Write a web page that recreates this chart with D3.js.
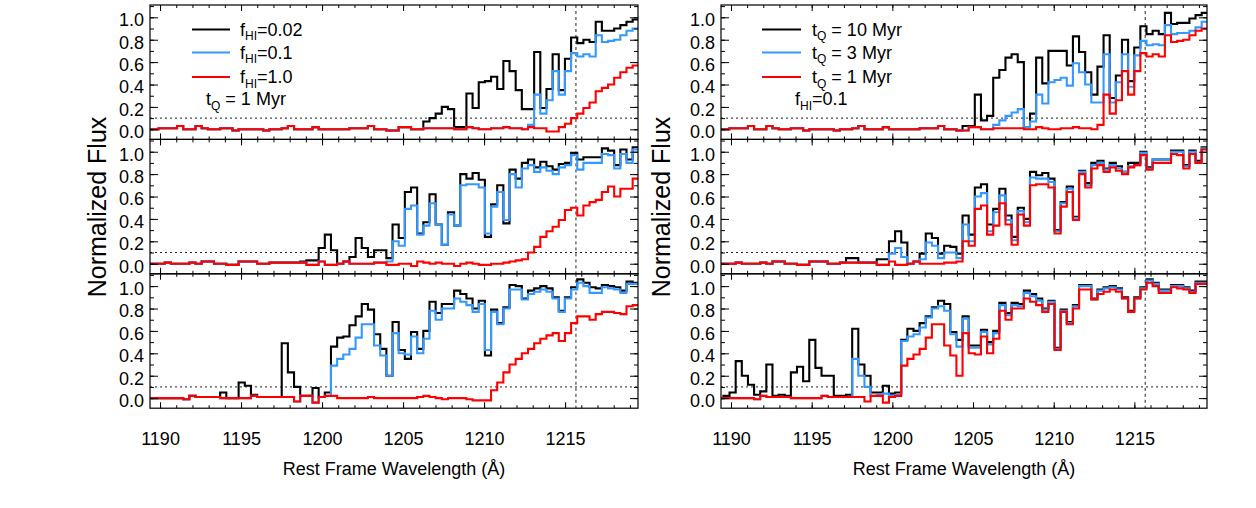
<!DOCTYPE html>
<html><head><meta charset="utf-8">
<script src="https://cdn.jsdelivr.net/npm/d3@7"></script>
<style>body{margin:0;background:#fff;} svg text{font-family:"Liberation Sans",Arial,Helvetica,sans-serif;}</style>
</head><body><svg id="c" width="1256" height="508"></svg>
<script>
// wavelength grid (rest frame, Angstrom): uniform pixels
const binStart = 1189.15, binWidth = 0.38, nBins = 80;
const wavelengths = d3.range(nBins).map(i => binStart + i * binWidth);
const lyaLine = 1215.67;
const fluxLevel = 0.1;
const xTicks = [1190, 1195, 1200, 1205, 1210, 1215];
const xMinorTicks = d3.range(1190, 1220, 1);
const yTicks = [0.0, 0.2, 0.4, 0.6, 0.8, 1.0];
const yMinorTicks = [0.0,0.1,0.2,0.3,0.4,0.5,0.6,0.7,0.8,0.9,1.0,1.1];

// ---- left column: t_Q = 1 Myr, f_HI = 0.02 / 0.1 / 1.0
const lTopBlack = [
0.00,0.00,0.01,0.01,0.01,0.03,0.00,0.00,0.03,0.01,
0.00,0.00,0.01,0.01,-0.01,0.00,0.00,0.00,0.00,-0.01,
0.00,0.00,0.01,0.03,0.00,0.00,0.00,0.02,0.00,0.00,
0.00,0.00,0.00,0.01,0.01,0.01,0.03,0.00,0.00,-0.01,
-0.01,0.02,0.02,0.00,0.00,0.07,0.10,0.14,0.20,0.18,
0.02,0.02,0.32,0.19,0.42,0.43,0.47,0.36,0.61,0.52,
0.35,0.18,0.18,0.69,0.19,0.36,0.67,0.35,0.63,0.82,
0.77,0.80,0.78,0.96,0.88,0.88,0.90,0.93,0.96,0.98];
const lTopBlue = [
0.00,0.00,0.01,0.01,0.01,0.03,0.00,0.00,0.03,0.01,
0.00,0.00,0.01,0.01,-0.01,0.00,0.00,0.00,0.00,-0.01,
0.00,0.00,0.01,0.03,0.00,0.00,0.00,0.02,0.00,0.00,
0.00,0.00,0.00,0.01,0.01,0.01,0.03,0.00,0.00,-0.01,
-0.01,0.02,0.02,0.00,0.00,0.01,0.01,0.01,0.01,0.01,
0.00,0.00,0.02,0.01,0.00,0.00,0.01,0.01,0.02,0.01,
0.01,0.00,0.04,0.31,0.14,0.26,0.52,0.31,0.52,0.68,
0.65,0.67,0.65,0.84,0.78,0.79,0.80,0.84,0.88,0.90];
const lTopRed = [
0.00,0.00,0.01,0.01,0.01,0.03,0.00,0.00,0.03,0.01,
0.00,0.00,0.01,0.01,-0.01,0.00,0.00,0.00,0.00,-0.01,
0.00,0.00,0.01,0.03,0.00,0.00,0.00,0.02,0.00,0.00,
0.00,0.00,0.00,0.01,0.01,0.01,0.03,0.00,0.00,-0.01,
-0.01,0.02,0.02,0.00,0.00,0.01,0.01,0.01,0.01,0.01,
0.00,0.00,0.02,0.01,0.00,0.00,0.01,0.01,0.02,0.01,
0.01,0.00,0.02,0.01,0.01,-0.02,-0.02,0.02,0.05,0.10,
0.14,0.19,0.24,0.34,0.37,0.40,0.46,0.51,0.55,0.57];

const lMidBlack = [
0.00,0.00,0.00,0.01,0.00,0.00,0.00,0.01,0.00,0.02,
0.02,0.00,0.00,-0.01,-0.01,0.02,0.02,0.02,0.00,0.00,
0.01,0.01,0.01,0.01,0.01,0.02,0.03,0.03,0.14,0.26,
0.12,0.00,0.02,0.06,0.23,0.14,0.06,0.12,0.12,0.05,
0.35,0.23,0.64,0.68,0.27,0.37,0.62,0.35,0.17,0.46,
0.34,0.80,0.76,0.81,0.75,0.24,0.53,0.70,0.36,0.84,
0.76,0.90,0.93,0.86,0.91,0.87,0.84,0.89,0.90,0.99,
0.93,0.95,0.95,0.95,1.03,1.01,0.88,1.02,0.93,1.04];
const lMidBlue = [
0.00,0.00,0.00,0.01,0.00,0.00,0.00,0.01,0.00,0.02,
0.02,0.00,0.00,-0.01,-0.01,0.02,0.02,0.02,0.00,0.00,
0.01,0.01,0.01,0.01,0.01,0.01,-0.01,-0.01,0.02,-0.01,
-0.01,0.00,0.02,0.00,0.00,0.00,0.00,0.01,0.01,0.02,
0.20,0.16,0.49,0.52,0.26,0.34,0.54,0.35,0.17,0.44,
0.34,0.70,0.71,0.71,0.68,0.27,0.51,0.64,0.39,0.80,
0.68,0.85,0.88,0.82,0.86,0.83,0.80,0.86,0.88,0.97,
0.84,0.90,0.90,0.90,0.98,0.97,0.85,0.98,0.90,1.02];
const lMidRed = [
0.00,0.00,0.00,0.01,0.00,0.00,0.00,0.01,0.00,0.02,
0.02,0.00,0.00,-0.01,-0.01,0.02,0.02,0.02,0.00,0.00,
0.01,0.01,0.01,0.01,0.01,0.01,-0.01,-0.01,0.02,-0.01,
-0.01,0.00,0.02,0.00,0.00,0.00,0.00,0.01,0.01,-0.01,
-0.01,0.00,0.00,-0.02,0.02,0.01,0.00,0.01,0.00,0.00,
-0.02,0.00,0.01,0.00,-0.01,-0.01,0.00,0.00,0.01,0.02,
0.03,0.04,0.10,0.15,0.24,0.29,0.33,0.39,0.48,0.50,
0.43,0.52,0.55,0.57,0.64,0.69,0.60,0.67,0.67,0.76];

const lBotBlack = [
0.00,0.00,0.00,0.00,0.00,0.00,-0.01,0.02,0.01,0.01,
0.01,0.01,0.05,0.00,0.00,0.14,0.11,0.03,0.01,0.01,
0.01,0.01,0.49,0.23,0.10,0.02,0.02,0.09,0.01,0.05,
0.46,0.54,0.55,0.65,0.73,0.84,0.79,0.57,0.44,0.20,
0.68,0.43,0.35,0.59,0.44,0.60,0.86,0.76,0.84,0.84,
0.96,0.93,0.89,0.80,0.87,0.38,0.79,0.67,0.81,1.01,
1.00,0.89,0.96,0.98,1.00,0.98,0.90,0.78,0.90,0.99,
1.06,1.03,0.99,0.98,1.01,1.00,0.99,0.96,1.04,1.03];
const lBotBlue = [
0.00,0.00,0.00,0.00,0.00,0.00,-0.01,0.02,0.01,0.01,
0.01,0.01,0.00,0.00,0.00,0.00,0.00,0.02,0.01,0.01,
0.01,0.01,0.01,0.01,-0.03,0.02,0.02,-0.04,0.01,0.02,
0.29,0.35,0.39,0.44,0.54,0.66,0.66,0.47,0.38,0.20,
0.58,0.40,0.39,0.55,0.40,0.53,0.78,0.70,0.80,0.80,
0.89,0.86,0.83,0.77,0.84,0.43,0.77,0.66,0.80,0.97,
0.97,0.88,0.93,0.95,0.97,0.95,0.89,0.77,0.89,0.97,
1.03,1.00,0.94,0.94,0.99,0.98,0.97,0.94,1.02,1.02];
const lBotRed = [
0.00,0.00,0.00,0.00,0.00,0.00,-0.01,0.02,0.01,0.01,
0.01,0.01,0.00,0.00,0.00,0.00,0.00,0.02,0.01,0.01,
0.01,0.01,0.01,0.01,-0.03,0.02,0.02,-0.04,0.01,0.02,
0.02,0.00,0.00,0.00,0.00,0.00,0.01,0.00,0.00,0.00,
0.00,0.00,0.00,0.00,0.01,0.02,0.01,0.00,-0.01,0.00,
0.00,0.00,-0.01,-0.02,-0.02,-0.02,0.07,0.14,0.23,0.30,
0.35,0.40,0.44,0.49,0.53,0.56,0.58,0.51,0.58,0.67,
0.73,0.73,0.70,0.75,0.77,0.77,0.76,0.75,0.82,0.83];

// ---- right column: f_HI = 0.1, t_Q = 10 / 3 / 1 Myr
const rTopBlack = [
0.00,0.00,0.01,0.01,0.01,0.03,0.00,0.00,0.03,0.01,
0.00,0.00,0.01,0.01,-0.01,0.00,0.00,0.00,0.00,-0.01,
0.00,0.00,0.01,0.03,0.00,0.00,0.00,0.02,0.00,0.00,
0.00,0.00,0.00,0.01,0.01,0.01,0.03,0.00,0.00,-0.01,
0.03,0.03,0.31,0.08,0.12,0.46,0.53,0.64,0.67,0.60,
0.02,0.14,0.64,0.41,0.70,0.70,0.70,0.57,0.83,0.69,
0.51,0.31,0.56,0.84,0.28,0.48,0.80,0.43,0.73,0.92,
0.85,0.88,0.85,1.04,0.94,0.95,0.95,0.99,1.02,1.04];
const rTopBlue = [
0.00,0.00,0.01,0.01,0.01,0.03,0.00,0.00,0.03,0.01,
0.00,0.00,0.01,0.01,-0.01,0.00,0.00,0.00,0.00,-0.01,
0.00,0.00,0.01,0.03,0.00,0.00,0.00,0.02,0.00,0.00,
0.00,0.00,0.00,0.01,0.01,0.01,0.03,0.00,0.00,-0.01,
-0.01,0.02,0.02,0.00,0.00,0.04,0.08,0.12,0.15,0.18,
0.02,0.07,0.31,0.23,0.42,0.44,0.46,0.39,0.59,0.51,
0.40,0.24,0.24,0.67,0.24,0.42,0.67,0.38,0.66,0.79,
0.75,0.76,0.75,0.93,0.85,0.86,0.86,0.88,0.91,0.96];
const rTopRed = [
0.00,0.00,0.01,0.01,0.01,0.03,0.00,0.00,0.03,0.01,
0.00,0.00,0.01,0.01,-0.01,0.00,0.00,0.00,0.00,-0.01,
0.00,0.00,0.01,0.03,0.00,0.00,0.00,0.02,0.00,0.00,
0.00,0.00,0.00,0.01,0.01,0.01,0.03,0.00,0.00,-0.01,
-0.01,0.02,0.02,0.00,0.00,0.01,0.01,0.01,0.01,0.01,
0.00,0.00,0.02,0.01,0.00,0.00,0.01,0.01,0.02,0.01,
0.01,0.00,0.04,0.31,0.14,0.26,0.52,0.31,0.52,0.68,
0.65,0.67,0.65,0.84,0.78,0.79,0.80,0.84,0.88,0.90];

const rMidBlack = [
0.00,0.00,0.00,0.01,0.00,0.00,0.00,0.01,0.00,0.02,
0.02,0.00,0.00,-0.01,-0.01,0.02,0.02,0.02,0.00,0.00,
0.01,0.05,0.05,0.01,0.01,0.01,0.04,0.04,0.20,0.29,
0.19,0.00,0.02,0.09,0.27,0.23,0.09,0.16,0.15,0.09,
0.43,0.26,0.68,0.71,0.35,0.49,0.67,0.43,0.24,0.50,
0.40,0.82,0.79,0.81,0.76,0.30,0.55,0.69,0.42,0.83,
0.72,0.90,0.92,0.85,0.90,0.87,0.82,0.90,0.90,1.00,
0.86,0.93,0.93,0.93,1.01,1.01,0.88,1.01,0.92,1.04];
const rMidBlue = [
0.00,0.00,0.00,0.01,0.00,0.00,0.00,0.01,0.00,0.02,
0.02,0.00,0.00,-0.01,-0.01,0.02,0.02,0.02,0.00,0.00,
0.01,0.01,0.01,0.01,0.01,0.01,-0.01,-0.01,0.09,0.14,
0.06,0.00,0.02,0.04,0.19,0.16,0.05,0.10,0.10,0.05,
0.35,0.20,0.60,0.63,0.29,0.46,0.61,0.39,0.21,0.47,
0.37,0.77,0.76,0.76,0.73,0.29,0.54,0.67,0.41,0.82,
0.70,0.88,0.90,0.84,0.88,0.85,0.82,0.87,0.88,0.99,
0.85,0.93,0.93,0.93,1.00,1.00,0.87,1.00,0.90,1.03];
const rMidRed = [
0.00,0.00,0.00,0.01,0.00,0.00,0.00,0.01,0.00,0.02,
0.02,0.00,0.00,-0.01,-0.01,0.02,0.02,0.02,0.00,0.00,
0.01,0.01,0.01,0.01,0.01,0.01,-0.01,-0.01,0.02,-0.01,
-0.01,0.00,0.02,0.00,0.00,0.00,0.00,0.01,0.01,0.02,
0.20,0.16,0.49,0.52,0.26,0.34,0.54,0.35,0.17,0.44,
0.34,0.70,0.71,0.71,0.68,0.27,0.51,0.64,0.39,0.80,
0.68,0.85,0.88,0.82,0.86,0.83,0.80,0.86,0.88,0.97,
0.84,0.90,0.90,0.90,0.98,0.97,0.85,0.98,0.90,1.02];

const rBotBlack = [
0.00,0.02,0.05,0.33,0.20,0.12,0.03,0.06,0.30,0.02,
0.03,0.02,0.23,0.28,0.15,0.52,0.27,0.20,0.20,0.02,
0.02,0.03,0.62,0.30,0.20,0.05,0.05,0.11,0.04,0.05,
0.52,0.62,0.60,0.67,0.73,0.81,0.87,0.84,0.59,0.52,
0.73,0.47,0.47,0.61,0.50,0.60,0.85,0.76,0.85,0.84,
0.96,0.93,0.89,0.80,0.87,0.45,0.79,0.68,0.83,1.01,
1.01,0.89,0.97,0.99,1.00,0.98,0.90,0.78,0.90,0.99,
1.06,1.03,0.97,0.97,1.01,1.01,0.99,0.96,1.04,1.04];
const rBotBlue = [
0.00,0.00,0.00,0.00,0.00,0.00,-0.01,0.02,0.01,0.01,
0.01,0.01,0.00,0.00,0.00,0.00,0.00,0.02,0.01,0.01,
0.01,0.01,0.35,0.20,0.10,0.02,0.03,0.04,0.02,0.03,
0.51,0.55,0.57,0.63,0.72,0.80,0.82,0.78,0.57,0.46,
0.71,0.45,0.45,0.59,0.48,0.58,0.83,0.74,0.83,0.82,
0.94,0.91,0.87,0.79,0.86,0.44,0.78,0.67,0.82,1.00,
1.00,0.88,0.96,0.98,0.99,0.97,0.89,0.77,0.89,0.98,
1.05,1.02,0.96,0.96,1.00,1.00,0.98,0.95,1.03,1.03];
const rBotRed = [
0.00,0.00,0.00,0.00,0.00,0.00,-0.01,0.02,0.01,0.01,
0.01,0.01,0.00,0.00,0.00,0.00,0.00,0.02,0.01,0.01,
0.01,0.01,0.01,0.01,-0.03,0.02,0.02,-0.04,0.01,0.02,
0.29,0.35,0.39,0.44,0.54,0.66,0.66,0.47,0.38,0.20,
0.58,0.40,0.39,0.55,0.40,0.53,0.78,0.70,0.80,0.80,
0.89,0.86,0.83,0.77,0.84,0.43,0.77,0.66,0.80,0.97,
0.97,0.88,0.93,0.95,0.97,0.95,0.89,0.77,0.89,0.97,
1.03,1.00,0.94,0.94,0.99,0.98,0.97,0.94,1.02,1.02];

const seriesColors = ["#000000", "#3399ff", "#ff0000"];
const leftLegendValues = ["0.02", "0.1", "1.0"];   // f_HI
const rightLegendValues = ["10", "3", "1"];        // t_Q (Myr)

const panels = [
  {col:0,row:0,series:[lTopBlack,lTopBlue,lTopRed]},
  {col:0,row:1,series:[lMidBlack,lMidBlue,lMidRed]},
  {col:0,row:2,series:[lBotBlack,lBotBlue,lBotRed]},
  {col:1,row:0,series:[rTopBlack,rTopBlue,rTopRed]},
  {col:1,row:1,series:[rMidBlack,rMidBlue,rMidRed]},
  {col:1,row:2,series:[rBotBlack,rBotBlue,rBotRed]}
];

const FONT = '"Liberation Sans", Arial, Helvetica, sans-serif';
const svg = d3.select("#c");
const colX = [[150,638],[721,1207]];
const rowTop = [5, 139.4, 273.8], panelH = 134.4;
const xDomain = [1189.38, 1219.5], yDomain = [-0.09, 1.11];
const defs = svg.append("defs");

function styleAxis(s){
  s.select(".domain").remove();
  s.attr("font-family", FONT).attr("font-size", 18);
  s.selectAll("line").attr("stroke","#000").attr("stroke-width",1);
  s.selectAll("text").attr("fill","#000");
}

panels.forEach((p,k) => {
  const [x0,x1] = colX[p.col];
  const y0 = rowTop[p.row], y1 = y0 + panelH;
  const x = d3.scaleLinear().domain(xDomain).range([x0,x1]);
  const y = d3.scaleLinear().domain(yDomain).range([y1,y0]);
  const g = svg.append("g");
  const cid = "clip" + k;
  defs.append("clipPath").attr("id",cid).append("rect")
    .attr("x",x0).attr("y",y0).attr("width",x1-x0).attr("height",panelH);
  const pg = g.append("g").attr("clip-path",`url(#${cid})`);
  pg.append("line").attr("x1",x0).attr("x2",x1).attr("y1",y(fluxLevel)).attr("y2",y(fluxLevel))
    .attr("stroke","#222").attr("stroke-width",1).attr("stroke-dasharray","2,3");
  pg.append("line").attr("x1",x(lyaLine)).attr("x2",x(lyaLine)).attr("y1",y0).attr("y2",y1)
    .attr("stroke","#222").attr("stroke-width",1).attr("stroke-dasharray","3,3");
  const line = d3.line().x(d => x(d[0])).y(d => y(d[1])).curve(d3.curveStepAfter);
  p.series.forEach((vals,j) => {
    const pts = vals.map((v,i) => [wavelengths[i], v]);
    pts.push([binStart + vals.length*binWidth, vals[vals.length-1]]);
    pg.append("path").attr("d", line(pts)).attr("fill","none")
      .attr("stroke", seriesColors[j]).attr("stroke-width", 2.1).attr("stroke-linejoin","miter");
  });
  g.append("rect").attr("x",x0).attr("y",y0).attr("width",x1-x0).attr("height",panelH)
    .attr("fill","none").attr("stroke","#000").attr("stroke-width",1.2);

  // x axes (bottom & top), ticks pointing inward
  g.append("g").attr("transform",`translate(0,${y1})`)
    .call(d3.axisBottom(x).tickValues(xMinorTicks).tickSize(-3).tickFormat("")).call(styleAxis);
  g.append("g").attr("transform",`translate(0,${y1})`)
    .call(d3.axisBottom(x).tickValues(xTicks).tickSize(-6).tickPadding(24)
      .tickFormat(p.row===2 ? d3.format("d") : "")).call(styleAxis);
  g.append("g").attr("transform",`translate(0,${y0})`)
    .call(d3.axisTop(x).tickValues(xMinorTicks).tickSize(-3).tickFormat("")).call(styleAxis);
  g.append("g").attr("transform",`translate(0,${y0})`)
    .call(d3.axisTop(x).tickValues(xTicks).tickSize(-6).tickFormat("")).call(styleAxis);
  // y axes (left & right)
  g.append("g").attr("transform",`translate(${x0},0)`)
    .call(d3.axisLeft(y).tickValues(yMinorTicks).tickSize(-4).tickFormat("")).call(styleAxis);
  const ly = g.append("g").attr("transform",`translate(${x0},0)`)
    .call(d3.axisLeft(y).tickValues(yTicks).tickSize(-8).tickPadding(6).tickFormat(d3.format(".1f"))).call(styleAxis);
  ly.selectAll("text").attr("dy","0.47em");
  g.append("g").attr("transform",`translate(${x1},0)`)
    .call(d3.axisRight(y).tickValues(yMinorTicks).tickSize(-4).tickFormat("")).call(styleAxis);
  g.append("g").attr("transform",`translate(${x1},0)`)
    .call(d3.axisRight(y).tickValues(yTicks).tickSize(-8).tickFormat("")).call(styleAxis);
});

// axis titles
[[97, 0],[661, 1]].forEach(([cx,c]) => {
  svg.append("text").attr("transform",`translate(${cx},207) rotate(-90)`)
    .attr("text-anchor","middle").attr("dy","0.35em")
    .attr("font-family",FONT).attr("font-size",25).text("Normalized Flux");
  const [x0,x1] = colX[c];
  svg.append("text").attr("x",(x0+x1)/2).attr("y",475).attr("text-anchor","middle")
    .attr("font-family",FONT).attr("font-size",18).text("Rest Frame Wavelength (Å)");
});

// legends
const legendRowsY = [29.5, 52.5, 77];
function subText(x, yb, main, sub, rest){
  const tx = svg.append("text").attr("x",x).attr("y",yb).attr("font-family",FONT).attr("font-size",18);
  tx.append("tspan").text(main);
  tx.append("tspan").attr("font-size",12).attr("dy",4.5).text(sub);
  tx.append("tspan").attr("dy",-4.5).text(rest);
}
leftLegendValues.forEach((v,i) => {
  svg.append("line").attr("x1",192).attr("x2",230).attr("y1",legendRowsY[i]).attr("y2",legendRowsY[i])
    .attr("stroke",seriesColors[i]).attr("stroke-width",2.2);
  subText(240, legendRowsY[i]+6, "f", "HI", "=" + v);
});
subText(206, 105, "t", "Q", " = 1 Myr");
rightLegendValues.forEach((v,i) => {
  svg.append("line").attr("x1",762).attr("x2",801).attr("y1",legendRowsY[i]).attr("y2",legendRowsY[i])
    .attr("stroke",seriesColors[i]).attr("stroke-width",2.2);
  subText(812, legendRowsY[i]+6, "t", "Q", " = " + v + " Myr");
});
subText(795, 105, "f", "HI", "=0.1");
</script>
</body></html>
